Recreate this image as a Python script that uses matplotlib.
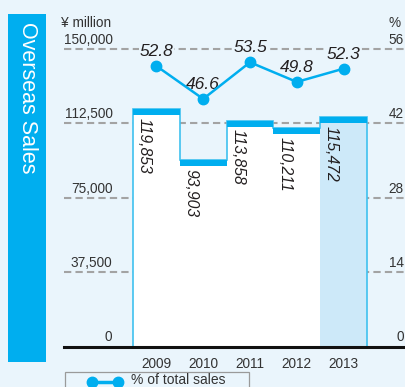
import numpy as np
import matplotlib
matplotlib.use('Agg')
import matplotlib.pyplot as plt
from matplotlib.patches import Rectangle
from matplotlib.lines import Line2D

# overseas sales (yen million) and share of total sales (%)
years = ['2009', '2010', '2011', '2012', '2013']
sales = [119853, 93903, 113858, 110211, 115472]
share = [52.8, 46.6, 53.5, 49.8, 52.3]
sales_ticks = [0, 37500, 75000, 112500, 150000]
share_ticks = [0, 14, 28, 42, 56]

BG = '#EAF5FC'
BLUE = '#00AEEF'
EDGE = '#3FC1EF'
HILITE = '#CDE9F9'
GRID = '#A3A3A3'
TXT = '#333333'

plt.rcParams['font.family'] = ['Liberation Sans', 'DejaVu Sans']

W, H = 405, 387
fig = plt.figure(figsize=(W / 100, H / 100), dpi=100, facecolor=BG)


def box(x0, y0, w, h):
    # pixel box (from top-left) -> figure fraction
    return [x0 / W, 1 - (y0 + h) / H, w / W, h / H]


ax = fig.add_axes(box(64, 19.25, 341, 327.25))
ax.set_facecolor(BG)
ax.set_xlim(-1.974, 5.312)
ax.set_ylim(0, 165000)
ax2 = ax.twinx()
ax2.set_ylim(0, 56 * 165000 / 150000)
ax2.patch.set_visible(False)

x = np.arange(len(years))
vals = np.array(sales)

# dashed guides
for t in sales_ticks[1:]:
    ax.axhline(t, color=GRID, lw=1.5, dashes=(3.5, 2), zorder=0)

# bars: white, last year highlighted, outline as steps, thick top caps
colors = ['white'] * (len(years) - 1) + [HILITE]
ax.bar(x, vals, width=1, color=colors, zorder=1)
ax.stairs(vals, edges=np.arange(len(years) + 1) - 0.5, baseline=0,
          color=EDGE, lw=1.2, zorder=2)
ax.bar(x, 3000, bottom=vals - 3000, width=1, color=BLUE, zorder=3)

for i, v in enumerate(sales):
    ax.annotate(f'{v:,}', (i - 0.26, v - 3000), xytext=(0, -2),
                textcoords='offset points', rotation=-90, ha='center',
                va='top', fontsize=11.3, style='italic', color='#231F20',
                zorder=4)

# share line
ax2.plot(x, share, color=BLUE, lw=1.8, marker='o', ms=7.5, zorder=5)
for i, v in enumerate(share):
    ax2.annotate(f'{v}', (i, v), xytext=(0, 5), textcoords='offset points',
                 ha='center', va='bottom', fontsize=12.5, style='italic',
                 color='#231F20',
                 bbox=dict(fc=BG, ec='none', pad=0.6))

# axis labels sitting above the guides
for t in sales_ticks:
    ax.annotate(f'{t:,}', (0.142, t), xycoords=ax.get_yaxis_transform(),
                xytext=(0, 1.5), textcoords='offset points', ha='right',
                va='bottom', fontsize=9.8, color=TXT)
for t in share_ticks:
    ax2.annotate(f'{t}', (0.997, t), xycoords=ax2.get_yaxis_transform(),
                 xytext=(0, 1.5), textcoords='offset points', ha='right',
                 va='bottom', fontsize=9.8, color=TXT)

ax.set_xticks(x, years)
ax.tick_params(axis='x', length=0, pad=7.5, labelsize=9.8, colors=TXT)
ax.set_yticks([])
ax2.set_yticks([])
for s in ['top', 'left', 'right']:
    ax.spines[s].set_visible(False)
for s in ax2.spines.values():
    s.set_visible(False)
ax.spines['bottom'].set_color('#111111')
ax.spines['bottom'].set_linewidth(2.2)

fig.text(111 / W, 1 - 23 / H, '¥ million', ha='right', va='center',
         fontsize=9.8, color=TXT)
fig.text(401 / W, 1 - 23 / H, '%', ha='right', va='center',
         fontsize=9.8, color=TXT)

# side title band
fig.add_artist(Rectangle(box(8, 14, 38, 348)[:2], 38 / W, 348 / H,
                         transform=fig.transFigure, color=BLUE, lw=0))
fig.text(27 / W, 1 - 22 / H, 'Overseas Sales', rotation=-90, ha='center',
         va='top', fontsize=15.5, color='white')

# legend
fig.add_artist(Rectangle(box(65, 371.7, 184, 30)[:2], 184 / W, 30 / H,
                         transform=fig.transFigure, fc='none',
                         ec='#9A9A9A', lw=0.9))
fig.add_artist(Line2D([91.7 / W, 118.3 / W], [1 - 381.7 / H] * 2,
                      transform=fig.transFigure, color=BLUE, lw=2.5,
                      marker='o', ms=7.5))
fig.text(130.7 / W, 1 - 380.5 / H, '% of total sales', ha='left',
         va='center', fontsize=10, color=TXT)

fig.savefig('out.png', dpi=100, facecolor=BG)
